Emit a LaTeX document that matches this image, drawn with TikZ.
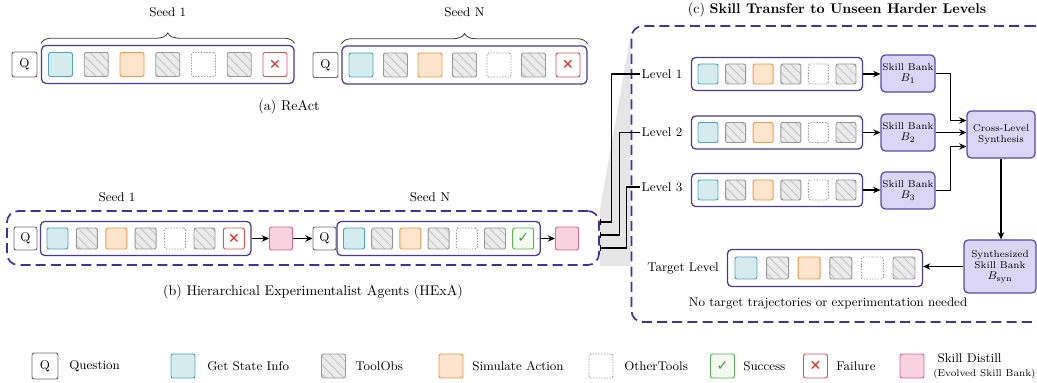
\documentclass[tikz,border=0pt]{standalone}
\usepackage{fontspec}
\newfontfamily\symfont{DejaVu Sans}
\usetikzlibrary{arrows.meta,fit,patterns.meta,decorations.pathreplacing,backgrounds}

\definecolor{qline}{HTML}{6E6E6E}
\definecolor{infoline}{HTML}{4DA8B2}
\definecolor{infofill}{HTML}{D5ECEF}
\definecolor{obsline}{HTML}{999999}
\definecolor{obsfill}{HTML}{EBEBEB}
\definecolor{obshatch}{HTML}{C2C2C2}
\definecolor{simline}{HTML}{F09A4A}
\definecolor{simfill}{HTML}{FCE5CC}
\definecolor{otherline}{HTML}{9C9C9C}
\definecolor{okline}{HTML}{5DB157}
\definecolor{okfill}{HTML}{F4FAF2}
\definecolor{okmark}{HTML}{3E9E3A}
\definecolor{failline}{HTML}{E0545C}
\definecolor{failmark}{HTML}{E32B2B}
\definecolor{distline}{HTML}{DE6A8E}
\definecolor{distfill}{HTML}{F8D2DE}
\definecolor{trajline}{HTML}{4A3B8F}
\definecolor{bankline}{HTML}{5A4AA8}
\definecolor{bankfill}{HTML}{DCD6F6}
\definecolor{stageline}{HTML}{3E3396}
\definecolor{wedgefill}{HTML}{E6E6E6}

\begin{document}
\begin{tikzpicture}[x=0.25mm,y=-0.25mm,
   cellbox/.style={rounded corners=1.5pt,line width=0.7pt,inner sep=0pt,minimum size=6mm},
   qbox/.style={cellbox,draw=qline,fill=white,font=\small},
   infobox/.style={cellbox,draw=infoline,fill=infofill},
   obsbox/.style={cellbox,draw=obsline,preaction={fill=obsfill},
      pattern={Lines[angle=-45,distance=4.5pt,line width=0.6pt]},pattern color=obshatch},
   simbox/.style={cellbox,draw=simline,fill=simfill},
   otherbox/.style={cellbox,draw=otherline,dash pattern=on 1pt off 1pt,fill=white},
   okbox/.style={cellbox,draw=okline,fill=okfill,
      label={[text=okmark,font=\symfont\bfseries]center:✓}},
   failbox/.style={cellbox,draw=failline,fill=white,
      label={[text=failmark,font=\symfont\bfseries]center:✕}},
   distbox/.style={cellbox,draw=distline,fill=distfill},
   trajbox/.style={draw=trajline,line width=0.9pt,rounded corners=3pt,inner sep=1.5mm},
   bankbox/.style={draw=bankline,fill=bankfill,line width=0.9pt,rounded corners=3pt,
      align=center,font=\scriptsize,inner sep=1pt},
   stagebox/.style={draw=stageline,line width=1.2pt,dash pattern=on 2.5mm off 1.3mm,
      rounded corners=8pt,inner sep=0pt},
   seedbrace/.style={decorate,decoration={brace,amplitude=2.6mm,raise=0.4mm},
      draw=black!75,line width=0.6pt},
   flow/.style={draw,line width=0.8pt,-{Stealth[length=1.8mm,width=1.6mm]}},
   tap/.style={draw,line width=0.8pt,{Bar[width=1.6mm]}-},
   lvlabel/.style={anchor=west,inner sep=1pt,font=\small},
   legtext/.style={anchor=west,inner sep=0pt,font=\small,align=left}]
\useasboundingbox (0,0) rectangle (1037,383);

% (a) ReAct
\node[qbox,minimum size=6.25mm] (qa1) at (24.5,64.5) {Q};
\foreach \t [count=\i] in {infobox,obsbox,simbox,obsbox,otherbox,obsbox,failbox}
  \node[\t] (a1-\i) at ({60.5+(\i-1)*35.75},64.5) {};
\node[trajbox,inner sep=1.6mm,fit=(a1-1)(a1-7)] (ta1) {};
\draw[seedbrace] (ta1.north west) -- (ta1.north east) node[midway,yshift=8.2mm] (sa1) {\small Seed 1};

\node[qbox,minimum size=6.25mm] (qa2) at (325.5,65) {Q};
\foreach \t [count=\i] in {infobox,obsbox,simbox,obsbox,otherbox,obsbox,failbox}
  \node[\t] (a2-\i) at ({361+(\i-1)*34.5},65) {};
\node[trajbox,inner sep=1.6mm,fit=(a2-1)(a2-7)] (ta2) {};
\draw[seedbrace] (ta2.north west) -- (ta2.north east) node[midway,yshift=8.2mm] (sa2) {\small Seed N};

\node (capa) at (289,107) {(a) ReAct};

% (b) HExA
\node[stagebox,minimum width=148mm,minimum height=13.5mm] (hexa) at (303,238) {};
\node[qbox,minimum size=5.75mm] (qb1) at (25.5,238.5) {Q};
\foreach \t [count=\i] in {infobox,obsbox,simbox,obsbox,otherbox,obsbox,failbox}
  \node[\t,minimum size=5.25mm] (b1-\i) at ({57.5+(\i-1)*29.4},238.5) {};
\node[trajbox,fit=(b1-1)(b1-7)] (tb1) {};
\node[distbox,minimum size=5.75mm] (db1) at (281,238.5) {};
\node[qbox,minimum size=5.75mm] (qb2) at (324.5,238.5) {Q};
\foreach \t [count=\i] in {infobox,obsbox,simbox,obsbox,otherbox,obsbox,okbox}
  \node[\t,minimum size=5.25mm] (b2-\i) at ({354+(\i-1)*28.2},238.5) {};
\node[trajbox,fit=(b2-1)(b2-7)] (tb2) {};
\node[distbox,minimum size=5.75mm] (db2) at (567,238.5) {};
\draw[flow] (tb1) -- (db1);
\draw[flow] (db1) -- (qb2);
\draw[flow] (tb2) -- (db2);
\node (sb1) at (117,197) {\small Seed 1};
\node (sb2) at (430,197) {\small Seed N};
\node (capb) at (313,292) {(b) Hierarchical Experimentalist Agents (HExA)};

% (c) skill transfer
\node[stagebox,minimum width=103.5mm,minimum height=74mm] (skill) at (838.5,174) {};
\node (capc) at (837,10) {(c) \textbf{Skill Transfer to Unseen Harder Levels}};
\begin{scope}[on background layer]
\fill[wedgefill] (hexa.north east) -- ([yshift=-2.5mm]skill.north west)
   -- (skill.west |- hexa.south) -- (hexa.south east) -- cycle;
\end{scope}

\node[lvlabel] (lv1) at (640,74) {Level 1};
\node[lvlabel] (lv2) at (640,132.5) {Level 2};
\node[lvlabel] (lv3) at (640,187) {Level 3};
\foreach \r/\y in {1/74,2/132.5,3/190} {
  \foreach \t [count=\i] in {infobox,obsbox,simbox,obsbox,otherbox,obsbox}
    \node[\t,minimum size=5mm] (l\r-\i) at ({708+(\i-1)*27.6},\y) {};
  \node[trajbox,fit=(l\r-1)(l\r-6)] (tl\r) {};
}
\node[bankbox,minimum width=13mm,minimum height=9.25mm] (bk1) at (908,73.5) {Skill Bank\\{\footnotesize$B_1$}};
\node[bankbox,minimum width=13mm,minimum height=9.25mm] (bk2) at (908,132.5) {Skill Bank\\{\footnotesize$B_2$}};
\node[bankbox,minimum width=13mm,minimum height=9.25mm] (bk3) at (908,190.5) {Skill Bank\\{\footnotesize$B_3$}};
\node[bankbox,minimum width=17mm,minimum height=11.75mm] (cross) at (1001,134.5) {Cross-Level\\Synthesis};
\node[bankbox,minimum width=18mm,minimum height=13.25mm] (syn) at (1000,266.5) {Synthesized\\Skill Bank\\{\footnotesize$B_{\mathrm{syn}}$}};

\node[lvlabel,anchor=center] (tgt) at (683,268) {Target Level};
\foreach \t [count=\i] in {infobox,obsbox,simbox,obsbox,otherbox,obsbox}
  \node[\t,minimum size=5.5mm] (tg-\i) at ({746+(\i-1)*31.6},268) {};
\node[trajbox,inner sep=1.75mm,fit=(tg-1)(tg-6)] (tt) {};
\node (note) at (828,303) {\small No target trajectories or experimentation needed};

\foreach \r in {1,2,3}
  \draw[flow] (tl\r.east) -- (tl\r.east -| bk\r.west);
\draw[flow] (bk1.east) -- ++(15,0) |- ([yshift=3.5mm]cross.west);
\draw[flow] (bk2.east) -- (bk2.east -| cross.west);
\draw[flow] (bk3.east) -- ++(15,0) |- ([yshift=-3mm]cross.west);
\draw[flow] (cross.south) -- (cross.south |- syn.north);
\draw[flow] (syn.west) -- (syn.west -| tt.east);

\coordinate (t1) at ([yshift=4mm]hexa.east);
\coordinate (t2) at ([yshift=0.75mm]hexa.east);
\coordinate (t3) at ([yshift=-2.5mm]hexa.east);
\draw[tap] (t1) -- ++(12,0) |- (lv1.west);
\draw[tap] (t2) -- ++(20,0) |- (lv2.west);
\draw[tap] (t3) -- ++(27,0) |- (lv3.west);

% legend
\node[qbox,minimum size=6.5mm] (lg1) at (45,366) {Q};
\node[legtext] (lt1) at (69,366) {Question};
\node[infobox] (lg2) at (183,366) {};
\node[legtext] (lt2) at (207,366) {Get State Info};
\node[obsbox] (lg3) at (333.5,366) {};
\node[legtext] (lt3) at (355,366) {ToolObs};
\node[simbox] (lg4) at (451,366) {};
\node[legtext] (lt4) at (472,366) {Simulate Action};
\node[otherbox] (lg5) at (601,366) {};
\node[legtext] (lt5) at (624,366) {OtherTools};
\node[okbox] (lg6) at (722.5,366) {};
\node[legtext] (lt6) at (743,366) {Success};
\node[failbox] (lg7) at (815.5,366) {};
\node[legtext] (lt7) at (836,366) {Failure};
\node[distbox] (lg8) at (912,366) {};
\node[legtext] (lt8) at (933,366) {\ Skill Distill\\[-1pt]{\scriptsize(Evolved Skill Bank)}};
\end{tikzpicture}
\end{document}
